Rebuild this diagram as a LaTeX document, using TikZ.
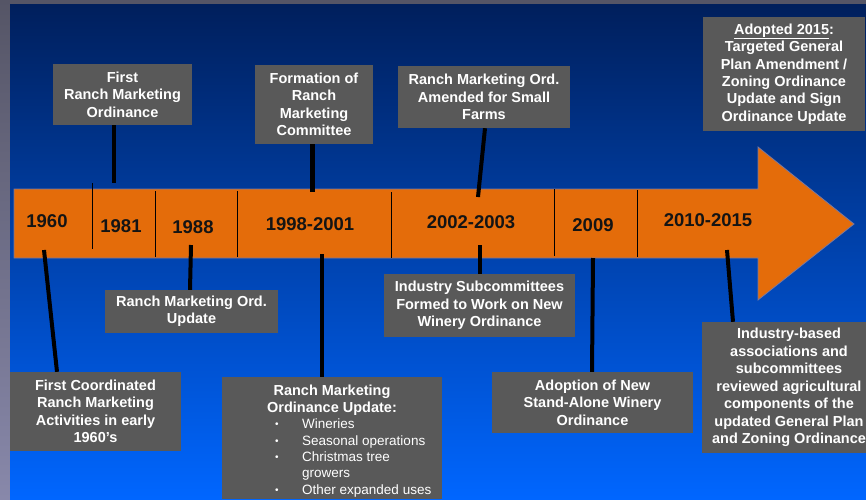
\documentclass[tikz,border=0pt]{standalone}
\usepackage{fontspec}
\setmainfont{Liberation Sans}
\usetikzlibrary{calc}
\definecolor{navy}{RGB}{0,31,92}
\definecolor{midblue}{RGB}{0,56,160}
\definecolor{brightblue}{RGB}{0,102,255}
\definecolor{boxgray}{RGB}{89,89,89}
\definecolor{arroworange}{RGB}{228,108,10}
\definecolor{arrowedge}{RGB}{120,120,160}
\definecolor{framegraytop}{RGB}{85,85,102}
\definecolor{framegraybot}{RGB}{136,136,170}
\definecolor{yeartext}{RGB}{20,20,20}
\newcommand{\blt}{\makebox[27pt][l]{\raisebox{1pt}{\fontsize{10}{10}\selectfont\textbullet}}}
\begin{document}
\begin{tikzpicture}[x=1pt,y=-1pt,
  box/.style={fill=boxgray, draw=none, text=white, align=center, inner sep=0pt,
    font=\fontsize{14.5}{17.4}\selectfont\bfseries},
  year/.style={text=yeartext, font=\fontsize{18.5}{20}\selectfont\bfseries, inner sep=0pt},
  conn/.style={draw=black, line width=4pt},
  divider/.style={draw=black, line width=0.9pt}]
\useasboundingbox (0,0) rectangle (866,499);
\clip (0,0) rectangle (866,499);
% frame and background
\fill[framegraytop] (0,0) rectangle (866,4);
\shade[top color=framegraytop, bottom color=framegraybot] (0,0) rectangle (10,499);
\shade[top color=navy, middle color=midblue, bottom color=brightblue] (10,4) rectangle (866,499);

% arrow
\draw[fill=arroworange, draw=arrowedge, line width=0.8pt]
  (14,189) -- (758,189) -- (758,147) -- (854,224) -- (758,300) -- (758,258) -- (14,258) -- cycle;
\draw[divider] (92,183) -- (92,249);
\draw[divider] (155,191) -- (155,257);
\draw[divider] (237,191) -- (237,257);
\draw[divider] (391,192) -- (391,258);
\draw[divider] (554,189) -- (554,256);
\draw[divider] (637,190) -- (637,257);

% years
\node[year] (y1960) at (47,221) {1960};
\node[year] (y1981) at (121,226) {1981};
\node[year] (y1988) at (193,227) {1988};
\node[year] (y1998) at (310,224) {1998-2001};
\node[year] (y2002) at (471,222) {2002-2003};
\node[year] (y2009) at (593,225) {2009};
\node[year] (y2010) at (708,220) {2010-2015};

% boxes
\node[box, minimum width=139, minimum height=61] (b1) at (122.5,94.5)
  {First\\Ranch Marketing\\Ordinance};
\node[box, minimum width=118, minimum height=79] (b2) at (314,104.5)
  {Formation of\\Ranch\\Marketing\\Committee};
\node[box, minimum width=172, minimum height=62] (b3) at (484,97)
  {Ranch Marketing Ord.\\Amended for Small\\Farms};
\node[box, minimum width=162, minimum height=114] (b4) at (784,74)
  {\underline{Adopted 2015}:\\Targeted General\\Plan Amendment /\\Zoning Ordinance\\Update and Sign\\Ordinance Update};
\node[box, minimum width=173, minimum height=43] (b5) at (191.5,311.5)
  {Ranch Marketing Ord.\\Update};
\node[box, minimum width=191, minimum height=63] (b6) at (479.5,305.5)
  {Industry Subcommittees\\Formed to Work on New\\Winery Ordinance};
\node[box, minimum width=171, minimum height=79] (b7) at (95.5,411.5)
  {First Coordinated\\Ranch Marketing\\Activities in early\\1960's};
\node[box, minimum width=220, minimum height=122] (b8) at (332,438) {};
\node[box, anchor=north, font=\fontsize{14.5}{16.3}\selectfont\bfseries] (b8title) at (332,385)
  {Ranch Marketing\\Ordinance Update:};
\node[box, fill=none, anchor=north west, align=left, font=\fontsize{13.5}{16.3}\selectfont] (b8list) at (275,419)
  {\blt Wineries\\\blt Seasonal operations\\\blt Christmas tree\\\hspace{27pt}growers\\\blt Other expanded uses};
\node[box, minimum width=201, minimum height=61] (b9) at (592.5,402.5)
  {Adoption of New\\Stand-Alone Winery\\Ordinance};
\node[box, minimum width=174, minimum height=131, font=\fontsize{14.5}{17.5}\selectfont\bfseries] (b10) at (789,387.5)
  {Industry-based\\associations and\\subcommittees\\reviewed agricultural\\components of the\\updated General Plan\\and Zoning Ordinance};

% connector ends on the timeline
\coordinate (t1) at (114,183);
\coordinate (t2) at (312,192);
\coordinate (t3) at (478,197);
\coordinate (t5) at (191,245);
\coordinate (t6) at (480,245);
\coordinate (t7) at (44,250);
\coordinate (t8) at (322,254);
\coordinate (t9) at (593,258);
\coordinate (t10) at (727,250);

% connectors
\draw[conn] ([xshift=-8.5pt]b1.south) -- (t1);
\draw[conn, line width=5pt] ([xshift=-2pt]b2.south) -- (t2);
\draw[conn] ([xshift=1pt]b3.south) -- (t3);
\draw[conn] ([xshift=-1.5pt]b5.north) -- (t5);
\draw[conn] ([xshift=0.5pt]b6.north) -- (t6);
\draw[conn] ([xshift=-38.5pt]b7.north) -- (t7);
\draw[conn] ([xshift=-10pt]b8.north) -- (t8);
\draw[conn] ([xshift=-0.5pt]b9.north) -- (t9);
\draw[conn] ([xshift=-56pt]b10.north) -- (t10);
\end{tikzpicture}
\end{document}
